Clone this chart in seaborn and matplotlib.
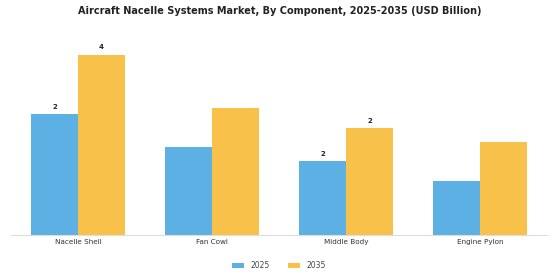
import matplotlib
matplotlib.use("Agg")
import matplotlib.pyplot as plt
import seaborn as sns
import pandas as pd

categories = ["Nacelle Shell", "Fan Cowl", "Middle Body", "Engine Pylon"]
years = ["2025", "2035"]
values_2025 = [2.48, 1.8, 1.52, 1.1]
values_2035 = [3.7, 2.6, 2.2, 1.9]
# which bars carry a value label (as in the reference)
labeled_2025 = [True, False, True, False]
labeled_2035 = [True, False, True, False]

df = pd.DataFrame({
    "Component": categories * 2,
    "Year": [years[0]] * 4 + [years[1]] * 4,
    "Value": values_2025 + values_2035,
})

sns.set_theme(style="white")
plt.rcParams["font.family"] = ["DejaVu Sans"]

fig = plt.figure(figsize=(5.6, 2.8), dpi=100)
ax = fig.add_axes([11/560, 45/280, 536/560, 195/280])

palette = {"2025": "#5DB0E3", "2035": "#F8C14A"}
sns.barplot(data=df, x="Component", y="Value", hue="Year", palette=palette,
            width=0.7, ax=ax, saturation=1, legend=True, linewidth=0)

for cont, flags in zip(ax.containers, [labeled_2025, labeled_2035]):
    labels = [f"{v:.0f}" if f else "" for v, f in zip(cont.datavalues, flags)]
    ax.bar_label(cont, labels=labels, fontsize=5, fontweight="bold", padding=3, color="#222222")

ax.set_ylim(0, 4.0)
ax.set_xlim(-0.5, 3.5)
ax.set_xlabel("")
ax.set_ylabel("")
ax.set_yticks([])
ax.tick_params(axis="x", labelsize=5.2, colors="#333333", length=0, pad=3)
for s in ["top", "right", "left"]:
    ax.spines[s].set_visible(False)
ax.spines["bottom"].set_color("#dddddd")
ax.spines["bottom"].set_linewidth(0.8)

fig.suptitle("Aircraft Nacelle Systems Market, By Component, 2025-2035 (USD Billion)",
             fontsize=7, fontweight="bold", y=0.978, color="#222222")

leg = ax.legend(loc="upper center", bbox_to_anchor=(0.5, -0.1), ncol=2, frameon=False,
                fontsize=5.5, handlelength=1.6, handleheight=0.5, columnspacing=2.4,
                handletextpad=0.8)
for t in leg.get_texts():
    t.set_color("#444444")

fig.savefig("out.png", dpi=100)
